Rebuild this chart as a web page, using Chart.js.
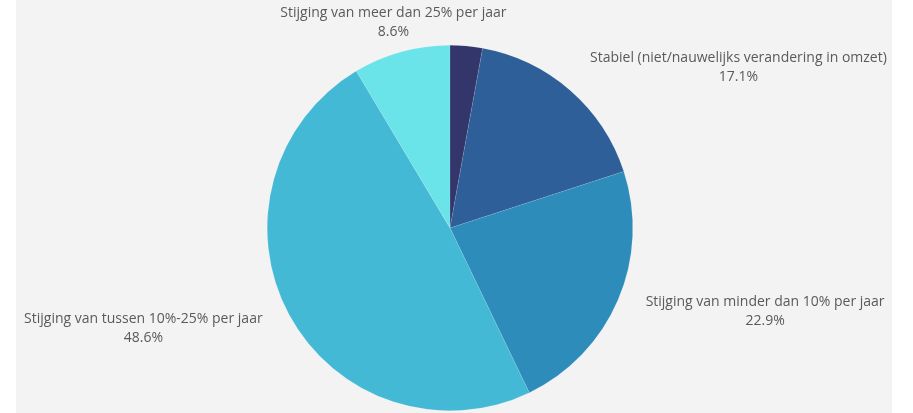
<!DOCTYPE html>
<html>
<head>
<meta charset="utf-8">
<script src="https://cdn.jsdelivr.net/npm/chart.js@4/dist/chart.umd.min.js"></script>
<style>
    html, body { margin: 0; padding: 0; background: #fff; }
    #wrap { position: absolute; left: 16px; top: 0; width: 876px; height: 413px; background: #f3f3f3; }
</style>
</head>
<body>
<div id="wrap"><canvas id="omzet"></canvas></div>
<script>
// antwoorden (n = 35)
var categories = [
    "Daling",
    "Stabiel (niet/nauwelijks verandering in omzet)",
    "Stijging van minder dan 10% per jaar",
    "Stijging van tussen 10%-25% per jaar",
    "Stijging van meer dan 25% per jaar"
];
var counts = [1, 6, 8, 17, 3];
var colors = ["#33366b", "#2e5f98", "#2d8cba", "#43b9d6", "#6ae4e9"];

var total = counts.reduce((a, b) => a + b, 0);

// labels buiten de taart: naam + percentage, tweede regel gecentreerd onder de eerste
var outsideLabels = {
    id: 'outsideLabels',
    afterDraw: (chart) => {
        let ctx = chart.ctx;
        let meta = chart.getDatasetMeta(0);
        ctx.save();
        ctx.font = '14px "Open Sans"';
        ctx.fillStyle = '#5a5a5a';
        ctx.textBaseline = 'middle';
        ctx.textAlign = 'center';
        meta.data.forEach((arc, i) => {
            let pct = counts[i] / total * 100;
            if (pct < 5) return; // kleine segmenten zonder label
            let mid = (arc.startAngle + arc.endAngle) / 2;
            let r = arc.outerRadius + 30;
            let x = arc.x + Math.cos(mid) * r;
            let y = arc.y + Math.sin(mid) * r;
            let c = Math.cos(mid);
            let w = ctx.measureText(categories[i]).width;
            let cx = x;
            if (Math.abs(c) >= 0.4) cx = c > 0 ? x + w / 2 : x - w / 2;
            ctx.fillText(categories[i], cx, y - 9.5);
            ctx.fillText(pct.toFixed(1) + '%', cx, y + 9.5);
        });
        ctx.restore();
    }
};

new Chart(document.getElementById('omzet'), {
    type: 'pie',
    data: {
        labels: categories,
        datasets: [{
            data: counts,
            backgroundColor: colors,
            borderColor: 'rgba(255,255,255,0.2)',
            borderWidth: 0.5
        }]
    },
    options: {
        responsive: true,
        maintainAspectRatio: false,
        animation: false,
        layout: { padding: { top: 45, bottom: 2, left: 0, right: 8 } },
        plugins: {
            legend: { display: false },
            tooltip: { enabled: false }
        }
    },
    plugins: [outsideLabels]
});
</script>
</body>
</html>
